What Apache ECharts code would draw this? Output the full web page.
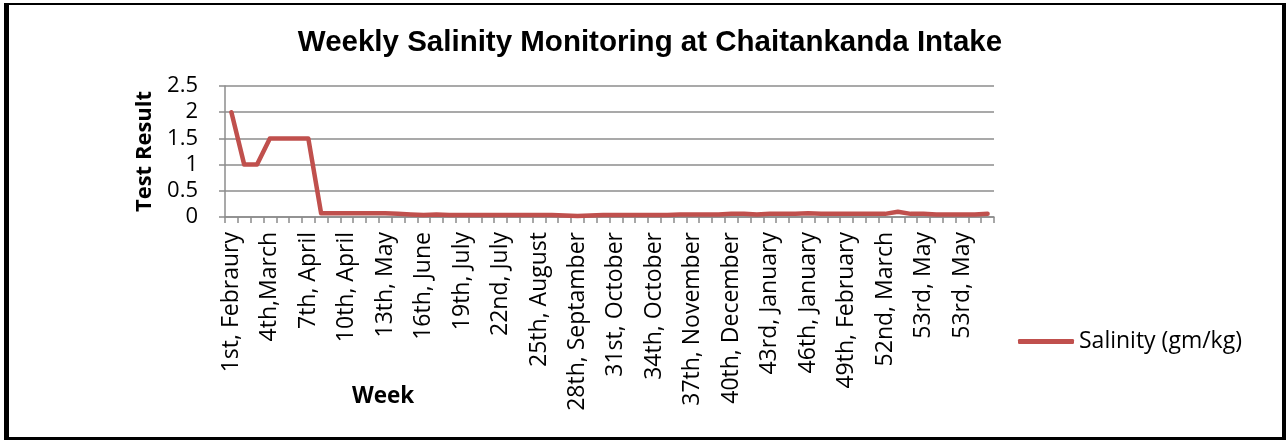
<!DOCTYPE html>
<html>
<head>
<meta charset="utf-8">
<script src="https://cdn.jsdelivr.net/npm/echarts@6/dist/echarts.min.js"></script>
<style>
  html, body { margin: 0; padding: 0; background: #fff; }
  .frame {
    position: absolute; left: 4px; top: 3px; width: 1282px; height: 437px;
    box-sizing: border-box; border-style: solid; border-color: #000;
    border-width: 2px 4px 3px 5px;
  }
  .chart { position: absolute; left: 0; top: 0; width: 1286px; height: 441px; }
</style>
</head>
<body>
<div class="chart" id="salinityChart"></div>
<div class="frame"></div>
<script>
const weeks = [
  '1st, Febraury', '2nd, Febraury', '3rd, Febraury', '4th,March', '5th, March', '6th, March',
  '7th, April', '8th, April', '9th, April', '10th, April', '11th, April', '12th, May',
  '13th, May', '14th, May', '15th, June', '16th, June', '17th, June', '18th, July',
  '19th, July', '20th, July', '21st, July', '22nd, July', '23rd, August', '24th, August',
  '25th, August', '26th, August', '27th, September', '28th, Septamber', '29th, September', '30th, October',
  '31st, October', '32nd, October', '33rd, October', '34th, October', '35th, November', '36th, November',
  '37th, November', '38th, November', '39th, December', '40th, December', '41st, December', '42nd, January',
  '43rd, January', '44th, January', '45th, January', '46th, January', '47th, February', '48th, February',
  '49th, February', '50th, March', '51st, March', '52nd, March', '53rd, April', '53rd, April',
  '53rd, May', '53rd, May', '53rd, May', '53rd, May', '53rd, May', '53rd, May'
];

const salinity = [
  2, 1, 1, 1.5, 1.5, 1.5, 1.5, 0.07, 0.07, 0.07,
  0.07, 0.07, 0.07, 0.06, 0.05, 0.04, 0.05, 0.04, 0.04, 0.04,
  0.04, 0.04, 0.04, 0.04, 0.04, 0.04, 0.03, 0.02, 0.03, 0.04,
  0.04, 0.04, 0.04, 0.04, 0.04, 0.05, 0.05, 0.05, 0.05, 0.06,
  0.06, 0.05, 0.06, 0.06, 0.06, 0.07, 0.06, 0.06, 0.06, 0.06,
  0.06, 0.06, 0.1, 0.06, 0.06, 0.05, 0.05, 0.05, 0.05, 0.06
];

const yTicks = [0, 0.5, 1, 1.5, 2, 2.5];

const chart = echarts.init(document.getElementById('salinityChart'));
const labelFont = '"Open Sans", "Noto Sans", sans-serif';

chart.setOption({
  animation: false,
  backgroundColor: '#fff',
  title: {
    text: 'Weekly Salinity Monitoring at Chaitankanda Intake',
    left: 645,
    textAlign: 'center',
    top: 23,
    textStyle: {
      fontFamily: '"Liberation Sans", Arial, sans-serif',
      fontWeight: 'bold',
      fontSize: 29.5,
      color: '#000'
    }
  },
  legend: {
    left: 1013,
    top: 325,
    itemWidth: 56,
    itemHeight: 5,
    itemGap: 4,
    icon: 'roundRect',
    data: ['Salinity (gm/kg)'],
    textStyle: { fontFamily: labelFont, fontSize: 23, color: '#000', padding: [0, 0, 0, 0] }
  },
  grid: { left: 225, right: 292, top: 86, bottom: 224 },
  xAxis: {
    type: 'category',
    data: weeks,
    boundaryGap: true,
    axisLine: { lineStyle: { color: '#8c8c8c', width: 1.5 } },
    axisTick: { show: true, interval: 0, length: 6, lineStyle: { color: '#8c8c8c', width: 1.5 } },
    axisLabel: {
      interval: 2,
      rotate: 90,
      margin: 15,
      fontFamily: labelFont,
      fontSize: 23,
      color: '#000'
    }
  },
  yAxis: {
    type: 'value',
    min: 0,
    max: 2.5,
    interval: 0.5,
    name: 'Test Result',
    nameLocation: 'middle',
    nameGap: 68,
    nameTextStyle: { fontFamily: labelFont, fontWeight: 'bold', fontSize: 22, color: '#000' },
    axisLine: { show: true, lineStyle: { color: '#8c8c8c', width: 1.5 } },
    axisTick: { show: true, length: 6, lineStyle: { color: '#8c8c8c', width: 1.5 } },
    axisLabel: {
      margin: 27,
      fontFamily: labelFont,
      fontSize: 22,
      color: '#000',
      formatter: v => yTicks.includes(v) ? String(v) : ''
    },
    splitLine: { lineStyle: { color: '#8c8c8c', width: 1.5 } }
  },
  graphic: [
    {
      type: 'text',
      left: 352,
      top: 385,
      style: { text: 'Week', fontFamily: labelFont, fontWeight: 'bold', fontSize: 22.5, fill: '#000' }
    }
  ],
  series: [
    {
      name: 'Salinity (gm/kg)',
      type: 'line',
      data: salinity,
      symbol: 'none',
      color: '#C0504D',
      lineStyle: { width: 4.5, color: '#C0504D', join: 'round', cap: 'round' }
    }
  ]
});
</script>
</body>
</html>
